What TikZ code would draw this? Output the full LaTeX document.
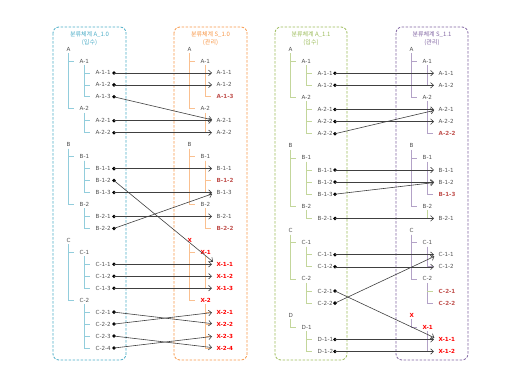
\documentclass[tikz,border=0pt]{standalone}
\usepackage{fontspec}
\setmainfont{DejaVu Sans}
\newfontfamily\krfont{Noto Sans CJK KR}
\usetikzlibrary{arrows.meta}
\usepackage{xcolor}

\definecolor{blueline}{HTML}{4BACC6}
\definecolor{bluetwig}{HTML}{92CDDC}
\definecolor{orangeline}{HTML}{F79646}
\definecolor{orangetwig}{HTML}{FAC090}
\definecolor{greenline}{HTML}{9BBB59}
\definecolor{greentwig}{HTML}{C3D69B}
\definecolor{purpleline}{HTML}{8064A2}
\definecolor{purpletwig}{HTML}{B3A2C7}
\definecolor{labelgray}{HTML}{505050}
\definecolor{lostred}{HTML}{C0504D}
\definecolor{addred}{HTML}{FF0000}
\definecolor{mapgray}{HTML}{404040}

\tikzset{
  itm/.style={anchor=west, inner sep=0.5pt, text=labelgray, font=\fontsize{5.6}{7}\selectfont},
  lost/.style={itm, text=lostred, font=\fontsize{5.6}{7}\selectfont\bfseries},
  added/.style={itm, text=addred, font=\fontsize{5.6}{7}\selectfont\bfseries},
  tipdot/.style={circle, fill=black, inner sep=0pt, minimum size=3.8pt},
  panelbox/.style={line width=0.8pt, dash pattern=on 2.5pt off 1.5pt, rounded corners=6pt},
  title/.style={align=center, font=\krfont\fontsize{6}{8}\selectfont},
  twig/.style={draw=bluetwig, line width=0.7pt},
  map/.style={draw=mapgray, line width=0.6pt, -{Straight Barb[length=3pt,width=5.5pt]}, shorten >=4pt}
}

% one parent with its children rows (last row closes the corner)
\newcommand\twigs[4][twig]{%
  \foreach \c in {#4}
    \draw[#1] ({15+16*#2},{49+\pitch*#3+4}) |- ({21+16*#2},{49+\pitch*\c});
}

\begin{document}
\begin{tikzpicture}[x=1pt, y=-1pt]

\useasboundingbox (0,0) rectangle (513,383);

% -------------------------
% Panel boxes
% -------------------------
\draw[panelbox, blueline] (53,27) rectangle (126,360);
\draw[panelbox, orangeline] (174,27) rectangle (247,360);
\draw[panelbox, greenline] (275,27) rectangle (347,360);
\draw[panelbox, purpleline] (396,27) rectangle (468,360);

\node[title, text=blueline] (t1) at (89.5,39) {분류체계 A\_1.0\\(입수)};
\node[title, text=orangeline] (t2) at (210.5,39) {분류체계 S\_1.0\\(관리)};
\node[title, text=greenline] (t3) at (311,39) {분류체계 A\_1.1\\(입수)};
\node[title, text=purpleline] (t4) at (432,39) {분류체계 S\_1.1\\(관리)};

% -------------------------
% A_1.0 (incoming)
% -------------------------
\begin{scope}[xshift=53, twig/.style={draw=bluetwig, line width=0.7pt}]
\def\pitch{11.96}
\foreach \r/\l/\t/\s in {0/0/A/itm, 1/1/A-1/itm, 2/2/A-1-1/itm, 3/2/A-1-2/itm, 4/2/A-1-3/itm,
    5/1/A-2/itm, 6/2/A-2-1/itm, 7/2/A-2-2/itm, 8/0/B/itm, 9/1/B-1/itm, 10/2/B-1-1/itm,
    11/2/B-1-2/itm, 12/2/B-1-3/itm, 13/1/B-2/itm, 14/2/B-2-1/itm, 15/2/B-2-2/itm,
    16/0/C/itm, 17/1/C-1/itm, 18/2/C-1-1/itm, 19/2/C-1-2/itm, 20/2/C-1-3/itm,
    21/1/C-2/itm, 22/2/C-2-1/itm, 23/2/C-2-2/itm, 24/2/C-2-3/itm, 25/2/C-2-4/itm}
  \node[\s] (a0-\r) at ({13+13*\l+1.5*\l*(\l-1)},{49+\pitch*\r}) {\t};
\foreach \r in {2,3,4,6,7,10,11,12,14,15,18,19,20,22,23,24,25}
  \node[tipdot] (d0-\r) at (61,{49+\pitch*\r}) {};
\twigs{0}{0}{1,5} \twigs{1}{1}{2,3,4} \twigs{1}{5}{6,7}
\twigs{0}{8}{9,13} \twigs{1}{9}{10,11,12} \twigs{1}{13}{14,15}
\twigs{0}{16}{17,21} \twigs{1}{17}{18,19,20} \twigs{1}{21}{22,23,24,25}
\end{scope}

% -------------------------
% S_1.0 (managed)
% -------------------------
\begin{scope}[xshift=174, twig/.style={draw=orangetwig, line width=0.7pt}]
\def\pitch{11.96}
\foreach \r/\l/\t/\s in {0/0/A/itm, 1/1/A-1/itm, 2/2/A-1-1/itm, 3/2/A-1-2/itm, 4/2/A-1-3/lost,
    5/1/A-2/itm, 6/2/A-2-1/itm, 7/2/A-2-2/itm, 8/0/B/itm, 9/1/B-1/itm, 10/2/B-1-1/itm,
    11/2/B-1-2/lost, 12/2/B-1-3/itm, 13/1/B-2/itm, 14/2/B-2-1/itm, 15/2/B-2-2/lost,
    16/0/X/added, 17/1/X-1/added, 18/2/X-1-1/added, 19/2/X-1-2/added, 20/2/X-1-3/added,
    21/1/X-2/added, 22/2/X-2-1/added, 23/2/X-2-2/added, 24/2/X-2-3/added, 25/2/X-2-4/added}
  \node[\s] (s0-\r) at ({13+13*\l+1.5*\l*(\l-1)},{49+\pitch*\r}) {\t};
\twigs{0}{0}{1,5} \twigs{1}{1}{2,3,4} \twigs{1}{5}{6,7}
\twigs{0}{8}{9,13} \twigs{1}{9}{10,11,12} \twigs{1}{13}{14,15}
\twigs{0}{16}{17,21} \twigs{1}{17}{18,19,20} \twigs{1}{21}{22,23,24,25}
\end{scope}

% -------------------------
% A_1.1 (incoming)
% -------------------------
\begin{scope}[xshift=275, twig/.style={draw=greentwig, line width=0.7pt}]
\def\pitch{12.1}
\foreach \r/\l/\t/\s in {0/0/A/itm, 1/1/A-1/itm, 2/2/A-1-1/itm, 3/2/A-1-2/itm,
    4/1/A-2/itm, 5/2/A-2-1/itm, 6/2/A-2-2/itm, 7/2/A-2-2/itm, 8/0/B/itm, 9/1/B-1/itm,
    10/2/B-1-1/itm, 11/2/B-1-2/itm, 12/2/B-1-3/itm, 13/1/B-2/itm, 14/2/B-2-1/itm,
    15/0/C/itm, 16/1/C-1/itm, 17/2/C-1-1/itm, 18/2/C-1-2/itm, 19/1/C-2/itm,
    20/2/C-2-1/itm, 21/2/C-2-2/itm, 22/0/D/itm, 23/1/D-1/itm, 24/2/D-1-1/itm, 25/2/D-1-2/itm}
  \node[\s] (a1-\r) at ({13+13*\l+1.5*\l*(\l-1)},{49+\pitch*\r}) {\t};
\foreach \r in {2,3,5,6,7,10,11,12,14,17,18,20,21,24,25}
  \node[tipdot] (d1-\r) at (60,{49+\pitch*\r}) {};
\twigs{0}{0}{1,4} \twigs{1}{1}{2,3} \twigs{1}{4}{5,6,7}
\twigs{0}{8}{9,13} \twigs{1}{9}{10,11,12} \twigs{1}{13}{14}
\twigs{0}{15}{16,19} \twigs{1}{16}{17,18} \twigs{1}{19}{20,21}
\twigs{0}{22}{23} \twigs{1}{23}{24,25}
\end{scope}

% -------------------------
% S_1.1 (managed)
% -------------------------
\begin{scope}[xshift=396, twig/.style={draw=purpletwig, line width=0.7pt}]
\def\pitch{12.1}
\foreach \r/\l/\t/\s in {0/0/A/itm, 1/1/A-1/itm, 2/2/A-1-1/itm, 3/2/A-1-2/itm,
    4/1/A-2/itm, 5/2/A-2-1/itm, 6/2/A-2-2/itm, 7/2/A-2-2/lost, 8/0/B/itm, 9/1/B-1/itm,
    10/2/B-1-1/itm, 11/2/B-1-2/itm, 12/2/B-1-3/lost, 13/1/B-2/itm, 14/2/B-2-1/itm,
    15/0/C/itm, 16/1/C-1/itm, 17/2/C-1-1/itm, 18/2/C-1-2/itm, 19/1/C-2/itm,
    20/2/C-2-1/lost, 21/2/C-2-2/lost, 22/0/X/added, 23/1/X-1/added, 24/2/X-1-1/added, 25/2/X-1-2/added}
  \node[\s] (s1-\r) at ({13+13*\l+1.5*\l*(\l-1)},{49+\pitch*\r}) {\t};
\twigs{0}{0}{1,4} \twigs{1}{1}{2,3} \twigs{1}{4}{5,6,7}
\twigs{0}{8}{9,13} \twigs{1}{9}{10,11,12}
\twigs[draw=greentwig, line width=0.7pt]{1}{13}{14}
\twigs{0}{15}{16,19} \twigs{1}{16}{17,18} \twigs{1}{19}{21}
\draw[draw=greentwig, line width=0.7pt] (31,{49+\pitch*20}) -- (37,{49+\pitch*20});
\twigs{0}{22}{23} \twigs{1}{23}{24,25}
\end{scope}

% -------------------------
% Mappings
% -------------------------
\foreach \a/\b in {2/2, 3/3, 4/6, 6/6, 7/7, 10/10, 11/18, 12/12, 14/14, 15/12,
    18/18, 19/19, 20/20, 22/23, 23/22, 24/25, 25/24}
  \draw[map] (d0-\a.center) -- (s0-\b.west);

\foreach \a/\b in {2/2, 3/3, 5/5, 6/6, 7/5, 10/10, 11/11, 12/11, 14/14,
    17/17, 18/18, 20/24, 21/17, 24/24, 25/25}
  \draw[map] (d1-\a.center) -- (s1-\b.west);

\end{tikzpicture}
\end{document}
